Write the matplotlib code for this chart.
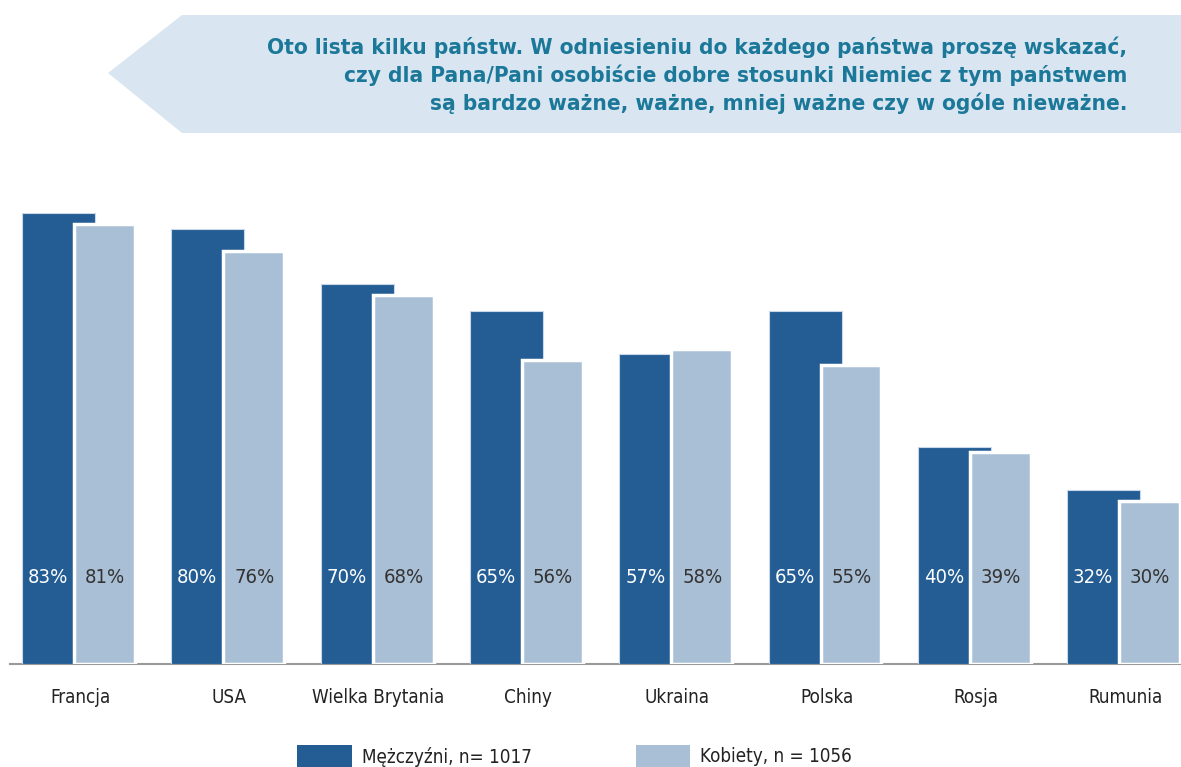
import numpy as np
import matplotlib.pyplot as plt
from matplotlib.patches import Polygon, Rectangle

plt.rcParams['font.family'] = ['DejaVu Sans']
plt.rcParams['font.stretch'] = 'condensed'

countries = ['Francja', 'USA', 'Wielka Brytania', 'Chiny', 'Ukraina', 'Polska', 'Rosja', 'Rumunia']
men = [83, 80, 70, 65, 57, 65, 40, 32]
women = [81, 76, 68, 56, 58, 55, 39, 30]
legend_labels = ['Mężczyźni, n= 1017', 'Kobiety, n = 1056']
title = ('Oto lista kilku państw. W odniesieniu do każdego państwa proszę wskazać,\n'
         'czy dla Pana/Pani osobiście dobre stosunki Niemiec z tym państwem\n'
         'są bardzo ważne, ważne, mniej ważne czy w ogóle nieważne.')

dark = '#235d94'
light = '#a9bfd6'

fig = plt.figure(figsize=(11.81, 7.67), dpi=100)
W, H = 1181, 767

# banner arrow
banner = fig.add_axes([0, 0, 1, 1])
banner.set_xlim(0, W)
banner.set_ylim(H, 0)
banner.axis('off')
banner.add_patch(Polygon([[108, 73], [182, 15], [W, 15], [W, 133], [182, 133]],
                         closed=True, color='#d9e6f1', lw=0))
banner.text(1127, 75, title, ha='right', va='center', fontsize=16.2, fontweight='bold',
            color='#1b7899', linespacing=1.38)

# legend
banner.add_patch(Rectangle((297, 745), 55, 22, color=dark, lw=0))
banner.text(362, 757, legend_labels[0], va='center', fontsize=13.5, color='#222222')
banner.add_patch(Rectangle((636, 745), 54, 22, color=light, lw=0))
banner.text(700, 757, legend_labels[1], va='center', fontsize=13.5, color='#222222')
banner.plot([10, W], [664, 664], color='#999999', lw=1.5)

# bars
step = 149.3
ax = fig.add_axes([0, (H - 664) / H, 1, 451 / H])
ax.set_xlim(-22 / step, (W - 22) / step)
ax.set_ylim(0, 83)
ax.axis('off')

x = np.arange(len(countries))
ax.bar(x, men, width=73 / step, align='edge', color=dark, edgecolor='#c9d8e8', lw=0.8)
ax.bar(x + 52 / step, women, width=61 / step, align='edge', color=light, edgecolor='white', lw=2.5)

for i in range(len(countries)):
    ax.text(x[i] + 26 / step, 16, f'{men[i]}%', ha='center', va='center', fontsize=14.5, color='white')
    ax.text(x[i] + 83 / step, 16, f'{women[i]}%', ha='center', va='center', fontsize=14.5, color='#333333')
    ax.text(x[i] + 58 / step, -6.1, countries[i], ha='center', va='center', fontsize=13.5,
            color='#222222', clip_on=False)

fig.savefig('out.png', dpi=100)
